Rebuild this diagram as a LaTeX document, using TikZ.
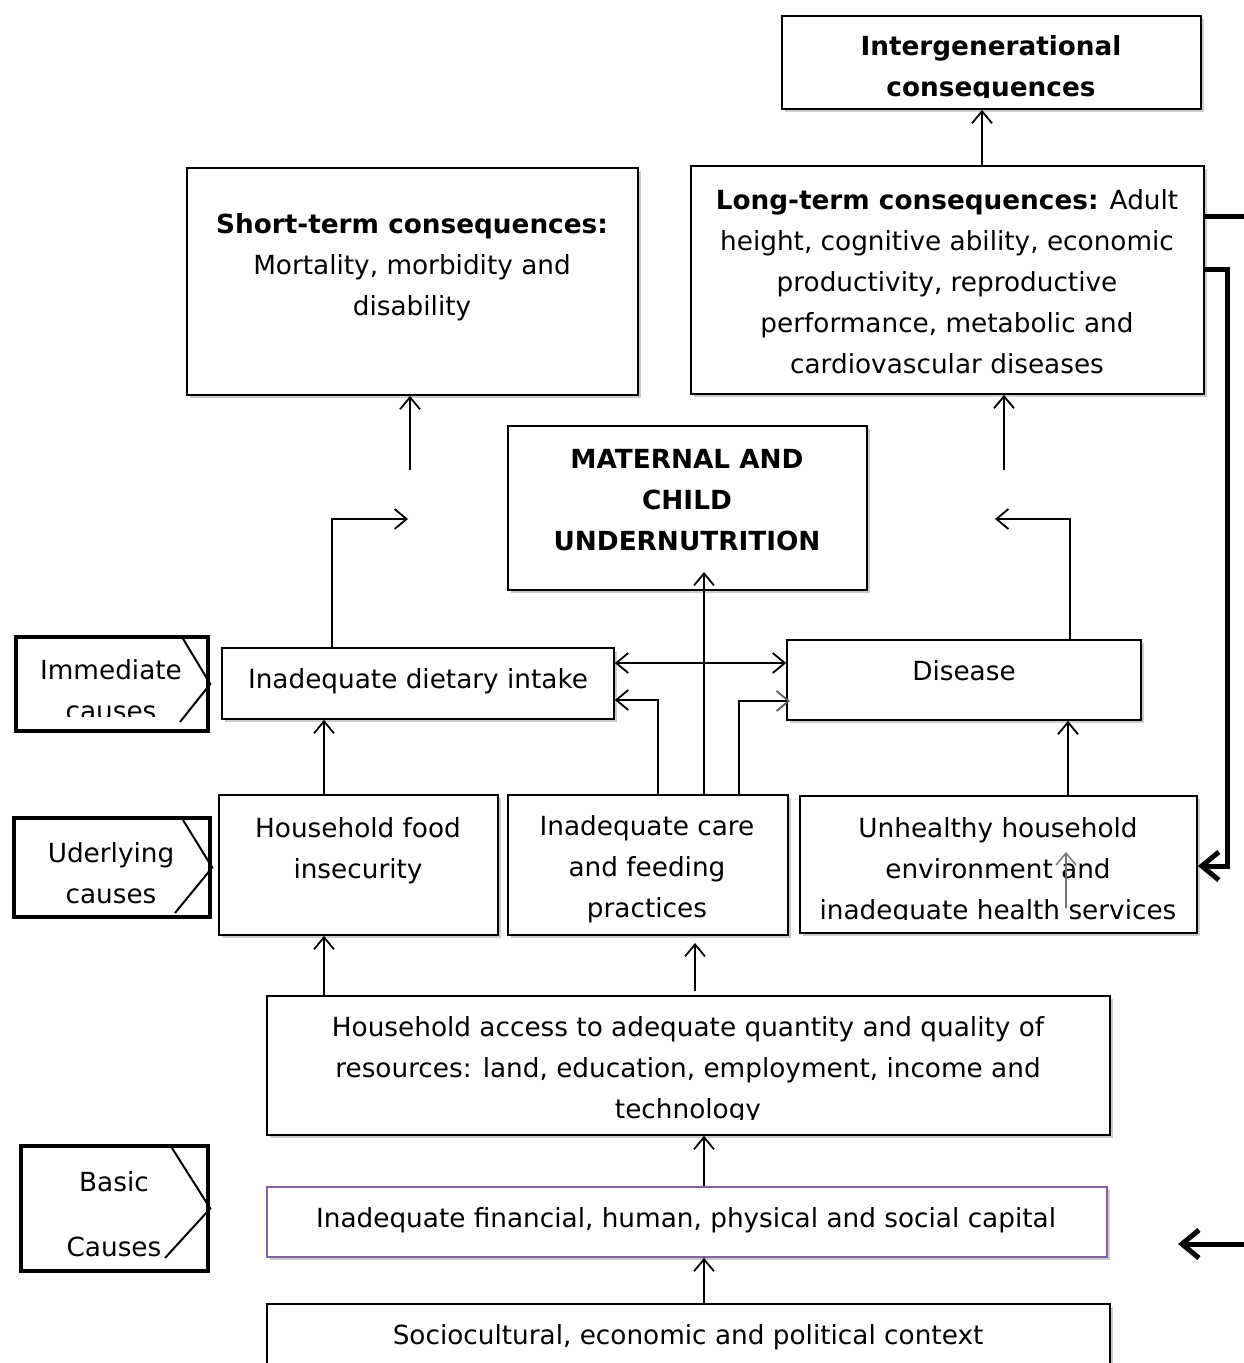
\documentclass[tikz,border=0pt]{standalone}
\usepackage{fontspec}
\setmainfont{DejaVu Sans}
\usetikzlibrary{arrows.meta,shadows}
\definecolor{boxpurple}{RGB}{128,100,162}
\begin{document}
\begin{tikzpicture}[x=1pt,y=-1pt,
  box/.style={draw, line width=1.7pt, fill=white, inner sep=0pt,
    drop shadow={shadow xshift=2.5pt, shadow yshift=-3pt, opacity=0.2, fill=black}},
  lab/.style={draw, line width=4.5pt, fill=white, inner sep=0pt},
  txt/.style={align=center, inner sep=0pt, font=\fontsize{26.3}{41}\selectfont},
  btxt/.style={txt, font=\fontsize{26.3}{41}\selectfont\bfseries},
  arr/.style={-{Straight Barb[length=12pt,width=20pt]}, line width=1.8pt},
  darr/.style={{Straight Barb[length=12pt,width=20pt]}-{Straight Barb[length=12pt,width=20pt]}, line width=1.8pt},
  tharr/.style={-{Straight Barb[length=17pt,width=28pt]}, line width=5pt},
  thline/.style={line width=5pt},
  chev/.style={line width=2pt}]
\useasboundingbox (0,0) rectangle (1243,1363);

% boxes
\node[box, minimum width=419pt, minimum height=93pt] (inter) at (991.5,62.5) {};
\node[box, minimum width=513pt, minimum height=228pt] (long) at (947.5,280) {};
\node[box, minimum width=451pt, minimum height=227pt] (short) at (412.5,281.5) {};
\node[box, minimum width=359pt, minimum height=164pt] (mat) at (687.5,508) {};
\node[box, minimum width=392pt, minimum height=71pt] (diet) at (418,683.5) {};
\node[box, minimum width=354pt, minimum height=80pt] (dis) at (964,680) {};
\node[box, minimum width=279pt, minimum height=140pt] (food) at (358.5,865) {};
\node[box, minimum width=280pt, minimum height=140pt] (care) at (648,865) {};
\node[box, minimum width=397pt, minimum height=137pt] (unh) at (998.5,864.5) {};
\node[box, minimum width=843pt, minimum height=139pt] (acc) at (688.5,1065.5) {};
\node[box, draw=boxpurple, minimum width=840pt, minimum height=70pt] (fin) at (687,1222) {};
\node[box, minimum width=843pt, minimum height=76pt] (soc) at (688.5,1342) {};

% side labels
\node[lab, minimum width=192pt, minimum height=94pt] (limm) at (112,684) {};
\node[lab, minimum width=196pt, minimum height=99pt] (lund) at (112,867.5) {};
\node[lab, minimum width=187pt, minimum height=125pt] (lbas) at (114.5,1208.5) {};
\draw[chev] (182,637) -- (limm.east) -- (180,722);
\draw[chev] (183,820) -- (lund.east) -- (175,913);
\draw[chev] (172,1148) -- (lbas.east) -- (165,1258);

% texts
\begin{scope}
\clip (782,16) rectangle (1201,97);
\node[btxt] (tinter) at (991,69) {Intergenerational\\consequences};
\end{scope}
\node[txt] (tlong) at (947,282) {\textbf{Long-term consequences:} Adult\\height, cognitive ability, economic\\productivity, reproductive\\performance, metabolic and\\cardiovascular diseases};
\node[txt] (tshort) at (412,267) {\textbf{Short-term consequences:}\\Mortality, morbidity and\\disability};
\node[btxt] (tmat) at (687,500) {MATERNAL AND\\CHILD\\UNDERNUTRITION};
\node[txt] (tdiet) at (418,681) {Inadequate dietary intake};
\node[txt] (tdis) at (964,671) {Disease};
\node[txt] (tfood) at (358,851) {Household food\\insecurity};
\node[txt] (tcare) at (647,869) {Inadequate care\\and feeding\\practices};
\begin{scope}
\clip (800,796) rectangle (1197,919);
\node[txt] (tunh) at (998,871) {Unhealthy household\\environment and\\inadequate health services};
\end{scope}
\begin{scope}
\clip (267,996) rectangle (1110,1119);
\node[txt] (tacc) at (688,1070) {Household access to adequate quantity and quality of\\resources: land, education, employment, income and\\technology};
\end{scope}
\node[txt] (tfin) at (686,1220) {Inadequate financial, human, physical and social capital};
\node[txt] (tsoc) at (688,1337) {Sociocultural, economic and political context};
\begin{scope}
\clip (16,637) rectangle (208,716);
\node[txt] (timm) at (111,690) {Immediate\\causes};
\end{scope}
\node[txt] (tund) at (111,873) {Uderlying\\causes};
\node[txt] (tbas) at (114,1214) {Basic\\[24pt]Causes};

% free coordinates
\coordinate (sa) at (410,470);
\coordinate (se) at (408,519);
\coordinate (la) at (1004,470);
\coordinate (le) at (995,519);
\coordinate (mt) at (704,572);
\coordinate (dr) at (790,701);
\coordinate (g1) at (1066,908);
\coordinate (g2) at (1066,852);
\coordinate (ca1) at (695,991);
\coordinate (ca2) at (695,943);
\coordinate (r1) at (1250,216);
\coordinate (rv) at (1227,269);
\coordinate (b1) at (1250,1244);
\coordinate (b2) at (1178,1244);

% connectors
\draw[arr] (982,0 |- long.north) -- (982,0 |- inter.south);
\draw[arr] (sa) -- (sa |- short.south);
\draw[arr] (332,0 |- diet.north) |- (se);
\draw[arr] (la) -- (la |- long.south);
\draw[arr] (1070,0 |- dis.north) |- (le);
\draw[arr] (704,0 |- care.north) -- (mt);
\draw[darr] (diet.east |- 0,663) -- (dis.west |- 0,663);
\draw[arr] (658,0 |- care.north) |- (diet.east |- 0,700);
\draw[line width=1.8pt, -{Straight Barb[length=12pt,width=20pt,color=black!65]}] (739,0 |- care.north) |- (dr);
\draw[arr] (324,0 |- food.north) -- (324,0 |- diet.south);
\draw[arr] (1068,0 |- unh.north) -- (1068,0 |- dis.south);
\draw[arr, black!55, line width=1.4pt] (g1) -- (g2);
\draw[arr] (324,0 |- acc.north) -- (324,0 |- food.south);
\draw[arr] (ca1) -- (ca2);
\draw[arr] (704,0 |- fin.north) -- (704,0 |- acc.south);
\draw[arr] (704,0 |- soc.north) -- (704,0 |- fin.south);
\draw[thline] (long.east |- 0,216) -- (r1);
\draw[tharr] (long.east |- 0,269) -- (rv) |- (unh.east |- 0,866);
\draw[tharr] (b1) -- (b2);
\end{tikzpicture}
\end{document}
